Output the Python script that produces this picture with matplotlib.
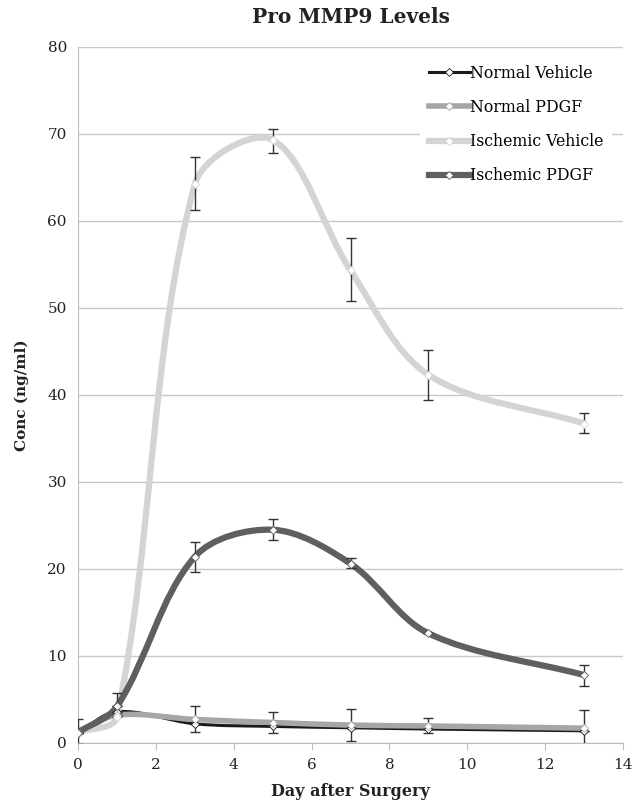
import matplotlib
matplotlib.use('Agg')
import matplotlib.pyplot as plt
from matplotlib.path import Path
from matplotlib.patches import PathPatch
from matplotlib.lines import Line2D
import numpy as np

plt.rcParams['font.family'] = ['DejaVu Serif']

days = [0, 1, 3, 5, 7, 9, 13]

normal_vehicle = [1.2, 3.6, 2.2, 1.9, 1.75, 1.6, 1.4]
normal_pdgf = [1.15, 3.2, 2.7, 2.35, 2.05, 1.95, 1.7]
ischemic_vehicle = [1.2, 3.0, 64.2, 69.3, 54.3, 42.3, 36.7]
ischemic_pdgf = [1.2, 4.2, 21.4, 24.5, 20.6, 12.6, 7.8]

# error bars (lower, upper)
nv_err_lo = [1.3, 0, 0, 0, 0, 0, 0]
nv_err_hi = [0, 0, 0, 0, 0, 0, 0]
np_err_lo = [0, 0, 1.45, 1.15, 1.85, 0.85, 2.0]
np_err_hi = [1.55, 0, 1.55, 1.25, 1.85, 0.95, 2.05]
iv_err_lo = [0, 0, 3.0, 1.5, 3.5, 2.9, 1.1]
iv_err_hi = [0, 2.7, 3.1, 1.3, 3.7, 2.9, 1.2]
ip_err_lo = [0, 0, 1.8, 1.2, 0.5, 0, 1.25]
ip_err_hi = [0, 0, 1.7, 1.2, 0.6, 0, 1.2]

series = [
    ('Normal Vehicle', normal_vehicle, '#1a1a1a', 2.2),
    ('Normal PDGF', normal_pdgf, '#a6a6a6', 4.0),
    ('Ischemic Vehicle', ischemic_vehicle, '#d4d4d4', 4.5),
    ('Ischemic PDGF', ischemic_pdgf, '#5f5f5f', 4.5),
]
errs = [(nv_err_lo, nv_err_hi), (np_err_lo, np_err_hi),
        (iv_err_lo, iv_err_hi), (ip_err_lo, ip_err_hi)]

fig = plt.figure(figsize=(6.38, 8), dpi=100, facecolor='white')
ax = fig.add_axes([0.1223, 0.0713, 0.8542, 0.8703])
ax.set_xlim(0, 14)
ax.set_ylim(0, 80)

# pixels per data unit, for spreadsheet-like smoothing in screen space
sx = 0.8542 * 638 / 14
sy = 0.8703 * 800 / 80


def smooth_path(xs, ys):
    # cubic bezier through the points, handle lengths scaled by chord length
    pts = np.column_stack([xs, ys]).astype(float)
    scr = pts * [sx, sy]
    n = len(pts)

    def d(a, b):
        return np.hypot(*(scr[a] - scr[b]))

    verts = [pts[0]]
    codes = [Path.MOVETO]
    for i in range(n - 1):
        a = max(i - 1, 0)
        b = min(i + 2, n - 1)
        d01, d12, d23 = d(a, i), d(i, i + 1), d(i + 1, b)
        c1 = pts[i] + (pts[i + 1] - pts[a]) * d12 / (d01 + d12) / 3
        c2 = pts[i + 1] - (pts[b] - pts[i]) * d12 / (d12 + d23) / 3
        verts += [c1, c2, pts[i + 1]]
        codes += [Path.CURVE4] * 3
    return Path(verts, codes)


ax.set_xticks(range(0, 15, 2))
ax.set_yticks(range(0, 81, 10))
ax.grid(axis='y', color='#c8c8c8', linewidth=1.0)
ax.set_axisbelow(True)
for s in ['top', 'right']:
    ax.spines[s].set_visible(False)
ax.spines['left'].set_color('#bdbdbd')
ax.spines['bottom'].set_color('#bdbdbd')
ax.tick_params(axis='y', length=0, labelsize=11, pad=8, colors='#222')
ax.tick_params(axis='x', length=5, color='#bdbdbd', labelsize=11, pad=6, labelcolor='#222')

handles = []
for (name, vals, col, lw), (lo, hi) in zip(series, errs):
    patch = PathPatch(smooth_path(days, vals), facecolor='none', edgecolor=col,
                      linewidth=lw, capstyle='round', joinstyle='round', zorder=3)
    ax.add_patch(patch)
    ax.errorbar(days, vals, yerr=[lo, hi], fmt='none', ecolor='#333333',
                elinewidth=1.0, capsize=3.5, capthick=1.0, zorder=4)
    ax.plot(days, vals, linestyle='none', marker='D', markersize=4.2,
            markerfacecolor='white', markeredgecolor=col, markeredgewidth=0.6, zorder=5)
    handles.append(Line2D([], [], color=col, linewidth=lw, marker='D', markersize=4.2,
                          markerfacecolor='white', markeredgecolor=col, markeredgewidth=0.6))

leg = ax.legend(handles, [s[0] for s in series], loc='upper right',
                bbox_to_anchor=(0.995, 0.998), fontsize=11.3, frameon=True,
                facecolor='white', edgecolor='none', framealpha=1,
                handlelength=2.6, handletextpad=0.05, labelspacing=1.1,
                borderpad=0.55)
leg.set_zorder(6)

ax.set_title('Pro MMP9 Levels', fontsize=14.5, fontweight='bold', color='#222', pad=17)
ax.set_xlabel('Day after Surgery', fontsize=11.5, fontweight='bold', color='#222', labelpad=8)
ax.set_ylabel('Conc (ng/ml)', fontsize=11, fontweight='bold', color='#222', labelpad=13)

fig.savefig('out.png', dpi=100, facecolor='white')
